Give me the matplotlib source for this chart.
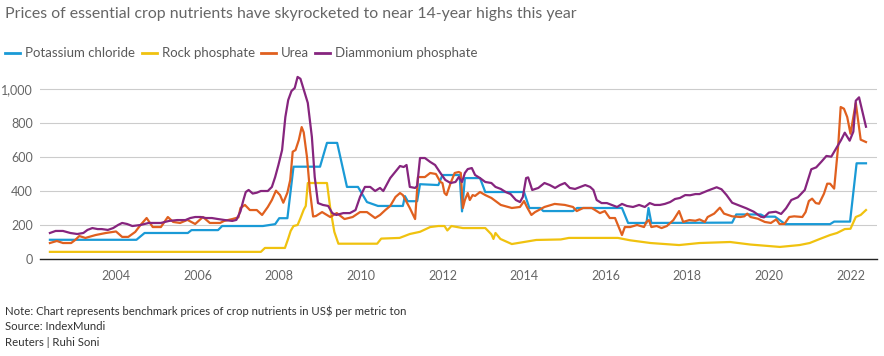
import matplotlib
matplotlib.use("Agg")
import matplotlib.pyplot as plt
from matplotlib.lines import Line2D

plt.rcParams['font.family'] = ['Lato', 'DejaVu Sans']

# ---------------- data (decimal years, US$ per metric ton) ----------------
kcl_t = [2002.38, 2004.50, 2004.70, 2005.76, 2005.85, 2006.50, 2006.60, 2007.60, 2007.90, 2008.00,
         2008.20, 2008.35, 2009.00, 2009.17, 2009.42, 2009.66, 2009.93, 2010.15, 2010.42, 2011.03,
         2011.08, 2011.15, 2011.38, 2011.45, 2011.90, 2012.00, 2012.42, 2012.48, 2012.55, 2012.92,
         2013.05, 2014.00, 2014.13, 2014.40, 2014.47, 2015.20, 2015.30, 2016.40, 2016.55, 2017.00,
         2017.05, 2017.12, 2019.10, 2019.20, 2019.80, 2019.90, 2020.15, 2020.40, 2021.50, 2021.60,
         2021.99, 2022.15, 2022.38]
kcl_v = [113, 113, 153, 153, 170, 170, 194, 194, 205, 240,
         240, 543, 543, 683, 683, 424, 424, 335, 312, 312,
         370, 340, 340, 440, 435, 494, 494, 280, 476, 476,
         394, 394, 300, 300, 282, 282, 300, 300, 212, 212,
         300, 212, 214, 262, 262, 249, 249, 205, 205, 220,
         220, 563, 563]

rock_t = [2002.38, 2007.55, 2007.65, 2008.14, 2008.22, 2008.28, 2008.35, 2008.45, 2008.52, 2008.60,
          2008.65, 2008.70, 2009.17, 2009.25, 2009.35, 2009.45, 2010.40, 2010.50, 2010.95, 2011.20,
          2011.45, 2011.70, 2011.90, 2012.05, 2012.12, 2012.22, 2012.50, 2013.05, 2013.20, 2013.25,
          2013.30, 2013.42, 2013.70, 2014.00, 2014.30, 2014.90, 2015.10, 2016.30, 2016.60, 2017.10,
          2017.80, 2018.30, 2019.05, 2019.55, 2020.27, 2020.75, 2021.00, 2021.25, 2021.50, 2021.67,
          2021.86, 2022.00, 2022.13, 2022.25, 2022.38]
rock_v = [42, 42, 65, 65, 120, 165, 194, 200, 240, 290,
          312, 447, 447, 300, 160, 90, 90, 120, 124, 147,
          160, 188, 194, 194, 168, 194, 182, 182, 145, 118,
          153, 118, 88, 100, 112, 115, 124, 124, 110, 94,
          82, 94, 100, 85, 71, 82, 94, 118, 141, 153,
          176, 178, 247, 259, 288]

urea_t = [2002.38, 2002.55, 2002.70, 2002.90, 2003.00, 2003.10, 2003.25, 2003.50, 2003.75, 2004.00,
          2004.15, 2004.30, 2004.47, 2004.60, 2004.75, 2004.90, 2005.10, 2005.27, 2005.40, 2005.57,
          2005.75, 2005.94, 2006.13, 2006.30, 2006.55, 2006.65, 2006.85, 2007.00, 2007.05, 2007.16,
          2007.28, 2007.45, 2007.58, 2007.72, 2007.82, 2007.92, 2008.02, 2008.10, 2008.20, 2008.27,
          2008.33, 2008.40, 2008.48, 2008.55, 2008.60, 2008.68, 2008.75, 2008.83, 2008.90, 2009.05,
          2009.25, 2009.41, 2009.60, 2009.80, 2009.98, 2010.15, 2010.35, 2010.47, 2010.60, 2010.72,
          2010.85, 2010.96, 2011.03, 2011.20, 2011.33, 2011.40, 2011.57, 2011.70, 2011.84, 2011.95,
          2012.00, 2012.05, 2012.10, 2012.20, 2012.30, 2012.40, 2012.45, 2012.50, 2012.55, 2012.62,
          2012.67, 2012.74, 2012.80, 2012.92, 2013.05, 2013.20, 2013.43, 2013.70, 2013.90, 2014.00,
          2014.07, 2014.18, 2014.27, 2014.50, 2014.75, 2015.00, 2015.20, 2015.29, 2015.45, 2015.66,
          2015.86, 2015.98, 2016.10, 2016.23, 2016.31, 2016.40, 2016.47, 2016.60, 2016.77, 2016.94,
          2017.00, 2017.06, 2017.12, 2017.25, 2017.37, 2017.50, 2017.66, 2017.80, 2017.90, 2018.05,
          2018.20, 2018.30, 2018.43, 2018.50, 2018.66, 2018.80, 2018.90, 2019.10, 2019.30, 2019.40,
          2019.47, 2019.55, 2019.73, 2019.90, 2020.05, 2020.18, 2020.26, 2020.38, 2020.50, 2020.62,
          2020.82, 2020.90, 2020.98, 2021.06, 2021.15, 2021.23, 2021.35, 2021.43, 2021.50, 2021.60,
          2021.70, 2021.76, 2021.84, 2021.92, 2022.00, 2022.13, 2022.25, 2022.38]
urea_v = [94, 106, 94, 94, 112, 135, 124, 141, 153, 162,
          130, 130, 159, 200, 241, 188, 188, 247, 218, 212,
          230, 206, 247, 212, 212, 224, 235, 245, 300, 318,
          288, 288, 259, 306, 347, 402, 376, 331, 390, 465,
          631, 641, 700, 776, 745, 600, 406, 250, 253, 276,
          247, 270, 235, 247, 276, 276, 241, 259, 288, 312,
          365, 388, 376, 300, 235, 482, 482, 506, 500, 453,
          447, 388, 376, 447, 506, 512, 506, 300, 347, 388,
          347, 376, 371, 394, 376, 359, 318, 300, 306, 341,
          306, 259, 276, 306, 324, 318, 306, 282, 300, 300,
          270, 282, 241, 241, 194, 141, 188, 188, 200, 188,
          218, 229, 188, 194, 182, 194, 229, 282, 218, 229,
          225, 233, 218, 247, 267, 302, 267, 251, 247, 251,
          267, 247, 237, 218, 212, 233, 206, 206, 247, 251,
          247, 276, 341, 355, 329, 325, 384, 443, 443, 414,
          669, 894, 884, 835, 737, 918, 702, 688]

dap_t = [2002.38, 2002.52, 2002.70, 2002.88, 2003.05, 2003.20, 2003.30, 2003.42, 2003.55, 2003.65,
         2003.80, 2003.93, 2004.05, 2004.15, 2004.27, 2004.40, 2004.60, 2004.80, 2005.10, 2005.30,
         2005.50, 2005.70, 2005.82, 2005.94, 2006.08, 2006.20, 2006.35, 2006.50, 2006.67, 2006.85,
         2006.95, 2007.05, 2007.12, 2007.18, 2007.25, 2007.35, 2007.45, 2007.55, 2007.72, 2007.82,
         2007.90, 2007.98, 2008.07, 2008.15, 2008.22, 2008.30, 2008.38, 2008.45, 2008.52, 2008.58,
         2008.70, 2008.80, 2008.87, 2008.95, 2009.07, 2009.20, 2009.30, 2009.40, 2009.57, 2009.73,
         2009.87, 2009.98, 2010.10, 2010.23, 2010.35, 2010.47, 2010.55, 2010.72, 2010.84, 2010.96,
         2011.05, 2011.12, 2011.20, 2011.33, 2011.38, 2011.45, 2011.57, 2011.70, 2011.82, 2011.95,
         2012.07, 2012.20, 2012.32, 2012.40, 2012.48, 2012.55, 2012.62, 2012.72, 2012.80, 2012.92,
         2013.05, 2013.20, 2013.30, 2013.43, 2013.55, 2013.67, 2013.80, 2013.90, 2013.97, 2014.05,
         2014.10, 2014.20, 2014.35, 2014.50, 2014.63, 2014.76, 2014.88, 2015.00, 2015.12, 2015.25,
         2015.38, 2015.50, 2015.62, 2015.70, 2015.78, 2015.90, 2016.03, 2016.15, 2016.28, 2016.40,
         2016.52, 2016.67, 2016.82, 2016.96, 2017.08, 2017.20, 2017.33, 2017.45, 2017.58, 2017.70,
         2017.82, 2017.95, 2018.07, 2018.20, 2018.30, 2018.50, 2018.72, 2018.84, 2018.96, 2019.10,
         2019.30, 2019.45, 2019.63, 2019.80, 2019.88, 2020.00, 2020.17, 2020.30, 2020.42, 2020.55,
         2020.71, 2020.88, 2021.04, 2021.16, 2021.29, 2021.41, 2021.53, 2021.65, 2021.77, 2021.86,
         2021.98, 2022.07, 2022.13, 2022.21, 2022.38]
dap_v = [153, 165, 165, 153, 147, 153, 171, 182, 176, 176,
         171, 182, 200, 212, 206, 194, 200, 212, 212, 224,
         229, 229, 241, 247, 247, 241, 241, 235, 229, 224,
         230, 280, 345, 394, 406, 385, 390, 400, 400, 424,
         482, 553, 641, 835, 935, 988, 1006, 1071, 1060, 1012,
         918, 718, 482, 329, 318, 312, 270, 259, 270, 270,
         288, 365, 424, 424, 400, 418, 400, 476, 512, 547,
         541, 553, 424, 418, 430, 594, 594, 571, 553, 506,
         465, 447, 453, 482, 453, 506, 529, 535, 494, 476,
         453, 447, 424, 412, 394, 382, 347, 335, 365, 476,
         480, 406, 418, 447, 435, 418, 435, 447, 418, 412,
         424, 435, 424, 406, 347, 329, 329, 318, 306, 324,
         312, 306, 318, 306, 329, 318, 318, 324, 335, 353,
         359, 376, 375, 382, 382, 402, 422, 410, 377, 331,
         312, 298, 278, 249, 245, 273, 278, 265, 298, 347,
         363, 406, 528, 539, 573, 606, 602, 651, 700, 743,
         696, 749, 931, 951, 778]

series_names = ["Potassium chloride", "Rock phosphate", "Urea", "Diammonium phosphate"]
series_colors = ["#1a9ad6", "#f0c20f", "#e0601f", "#86257e"]
year_ticks = [2004, 2006, 2008, 2010, 2012, 2014, 2016, 2018, 2020, 2022]
value_ticks = [0, 200, 400, 600, 800, 1000]

title = "Prices of essential crop nutrients have skyrocketed to near 14-year highs this year"
notes = ["Note: Chart represents benchmark prices of crop nutrients in US$ per metric ton",
         "Source: IndexMundi",
         "Reuters | Ruhi Soni"]

# ---------------- figure ----------------
W, H = 884, 356
fig = plt.figure(figsize=(W / 100, H / 100), dpi=100)
ax = fig.add_axes([40 / W, (H - 259) / H, (877 - 40) / W, (259 - 72) / H])

data = [(kcl_t, kcl_v), (rock_t, rock_v), (urea_t, urea_v), (dap_t, dap_v)]
for (t, v), c in zip(data, series_colors):
    ax.plot(t, v, color=c, lw=1.6, solid_joinstyle='round', zorder=3)

ax.set_xlim(2002.137, 2022.65)
ax.set_ylim(0, 1100)
ax.set_xticks(year_ticks)
ax.set_xticklabels([str(y) for y in year_ticks])
ax.set_yticks(value_ticks)
ax.set_yticklabels([f"{v:,}" for v in value_ticks])
ax.tick_params(axis='both', length=0, labelsize=9, labelcolor='#666666')
ax.tick_params(axis='x', pad=8)
ax.tick_params(axis='y', pad=5)
ax.grid(axis='y', color='#cccccc', lw=0.8, zorder=0)
for s in ['top', 'right', 'left']:
    ax.spines[s].set_visible(False)
ax.spines['bottom'].set_color('#222222')
ax.spines['bottom'].set_linewidth(1.0)
ax.spines['bottom'].set_zorder(4)

# title
fig.text(5 / W, 1 - 14 / H, title, fontsize=11.4, color='#666666', va='center', ha='left')

# legend (manual)
leg_line_x = [5, 142, 261, 315]
for name, c, lx in zip(series_names, series_colors, leg_line_x):
    fig.add_artist(Line2D([lx / W, (lx + 15) / W], [1 - 53 / H, 1 - 53 / H],
                          transform=fig.transFigure, color=c, lw=2))
    fig.text((lx + 20) / W, 1 - 53 / H, name, fontsize=9.5, color='#5a5a5a',
             va='center', ha='left')

# footer
for i, line in enumerate(notes):
    fig.text(5 / W, 1 - (311 + 16 * i) / H, line, fontsize=8.2, color='#333333',
             va='center', ha='left')

fig.savefig("out.png", dpi=100)
